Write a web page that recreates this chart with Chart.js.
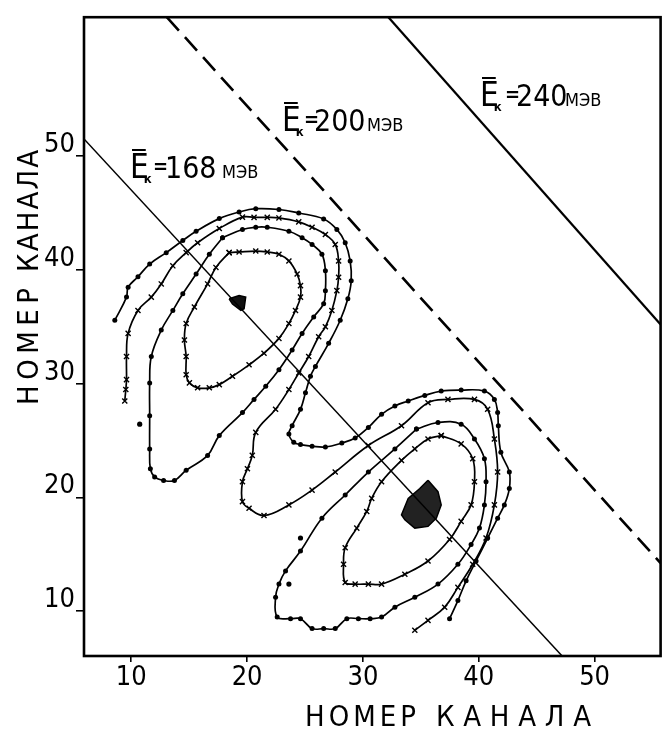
<!DOCTYPE html>
<html><head><meta charset="utf-8">
<script src="https://cdn.jsdelivr.net/npm/chart.js@4.4.0/dist/chart.umd.min.js"></script>
<style>html,body{margin:0;padding:0;background:#fff;}canvas{display:block;}</style>
</head><body>
<canvas id="c" width="666" height="729"></canvas>
<script>
// ---- data (channel numbers) ----
const xTicks = [10, 20, 30, 40, 50];
const yTicks = [10, 20, 30, 40, 50];
const axisTitle = 'НОМЕР  КАНАЛА';

// outer S-shaped contour (dots)
const curveA = [[8.58,35.57],[9.59,37.60],[9.73,38.47],[10.58,39.39],[11.59,40.50],[13.02,41.51],[14.45,42.58],[15.60,43.39],[17.60,44.50],[19.31,45.08],[20.75,45.37],[22.75,45.30],[24.46,44.99],[26.61,44.47],[27.75,43.55],[28.47,42.38],[28.90,40.78],[28.99,39.04],[28.70,37.45],[28.04,35.57],[27.04,33.54],[25.90,31.51],[25.47,30.64],[25.04,29.19],[24.61,27.74],[23.89,26.30],[23.61,25.57],[24.03,24.84],[24.61,24.64],[25.61,24.50],[26.76,24.43],[28.18,24.78],[29.33,25.22],[30.47,26.15],[31.61,27.30],[32.76,28.03],[33.91,28.47],[35.34,28.96],[36.76,29.34],[38.48,29.43],[40.49,29.34],[41.35,28.61],[41.63,27.45],[41.69,26.30],[41.91,23.97],[42.64,22.23],[42.64,20.78],[42.21,19.34],[41.63,18.17],[40.77,16.43],[39.77,14.41],[38.91,12.67],[38.20,10.93],[37.48,9.34]];
// second S-shaped contour (crosses)
const curveC = [[9.44,28.47],[9.53,29.48],[9.59,30.35],[9.59,32.38],[9.73,34.41],[10.58,36.43],[11.73,37.60],[12.59,38.76],[13.59,40.35],[14.74,41.51],[15.73,42.38],[17.60,43.63],[19.60,44.63],[20.60,44.61],[21.74,44.61],[22.75,44.56],[24.46,44.21],[25.61,43.74],[26.76,43.10],[27.61,42.23],[27.90,40.78],[27.90,39.34],[27.75,38.17],[27.32,36.43],[26.76,34.99],[26.18,34.12],[25.32,32.38],[24.46,30.93],[23.61,29.48],[22.46,27.74],[20.75,25.71],[20.45,23.69],[20.03,22.52],[19.60,21.37],[19.60,19.63],[20.17,19.04],[21.46,18.41],[23.61,19.34],[25.61,20.64],[27.61,22.23],[30.47,24.56],[33.33,26.30],[35.62,28.32],[37.34,28.61],[39.63,28.61],[40.77,27.74],[41.35,25.13],[41.63,22.23],[41.35,19.34],[40.63,16.43],[39.48,14.12],[38.20,12.09],[37.06,10.35],[35.62,9.19],[34.48,8.32]];
// upper peak: inner contour (crosses) and middle contour (dots)
const upperInner = [[18.45,41.51],[19.31,41.57],[20.75,41.65],[21.74,41.57],[22.75,41.37],[23.61,40.78],[24.32,39.63],[24.61,38.61],[24.61,37.60],[24.18,36.43],[23.61,35.28],[22.75,33.97],[21.46,32.67],[20.17,31.65],[18.74,30.64],[17.60,29.91],[16.74,29.63],[15.73,29.63],[15.02,30.06],[14.74,30.78],[14.74,32.38],[14.59,33.83],[14.74,35.28],[15.45,36.73],[16.59,38.76],[17.31,40.21],[18.45,41.51]];
const upperMid = [[17.88,42.82],[19.60,43.54],[20.75,43.74],[21.74,43.74],[23.61,43.39],[24.75,42.82],[25.61,42.23],[26.46,41.37],[26.76,39.91],[26.76,38.17],[26.61,37.02],[25.75,35.86],[24.75,34.41],[23.89,32.96],[22.75,31.22],[21.61,29.77],[20.60,28.61],[19.60,27.45],[17.60,25.43],[16.59,23.69],[14.74,22.38],[13.73,21.49],[12.79,21.49],[12.02,21.80],[11.65,22.52],[11.59,24.26],[11.59,27.17],[11.59,30.06],[11.73,32.38],[12.59,34.70],[13.59,36.43],[14.45,37.89],[15.60,39.63],[16.74,41.37],[17.88,42.82]];
// lower peak: inner contour (crosses) and middle contour (dots)
const lowerInner = [[36.76,25.43],[38.48,24.70],[39.48,23.39],[39.63,21.37],[39.34,19.34],[38.48,17.89],[37.48,16.30],[35.62,14.41],[33.62,13.25],[31.61,12.38],[30.47,12.38],[29.33,12.38],[28.47,12.52],[28.33,14.12],[28.47,15.57],[29.47,17.30],[30.33,18.76],[30.76,19.91],[31.61,21.37],[33.33,23.25],[34.48,24.26],[35.62,25.13],[36.76,25.43]];
const lowerMid = [[34.62,26.00],[36.48,26.58],[38.48,26.43],[39.63,25.13],[40.49,23.39],[40.63,21.37],[40.49,19.34],[40.06,17.30],[39.34,15.86],[38.20,14.12],[36.48,12.38],[34.48,11.22],[32.76,10.35],[31.61,9.48],[30.62,9.34],[29.61,9.34],[28.61,9.34],[27.61,8.47],[26.61,8.47],[25.61,8.47],[24.61,9.34],[23.75,9.34],[22.60,9.48],[22.46,11.22],[22.75,12.38],[23.32,13.54],[24.61,15.28],[26.46,18.17],[28.47,20.21],[30.47,22.23],[32.76,24.26],[34.62,26.00]];
// isolated points
const strayDots = [[10.73,26.43],[23.61,12.38],[24.61,16.43]];
// peak regions
const upperPeak = [[18.45,37.45],[19.31,37.74],[19.88,37.60],[19.74,36.58],[19.46,36.43],[18.74,36.99],[18.45,37.45]];
const lowerPeak = [[35.62,21.51],[36.48,20.50],[36.76,19.34],[36.34,18.17],[35.62,17.45],[34.48,17.30],[33.62,18.03],[33.33,18.47],[33.91,19.91],[34.91,20.78],[35.62,21.51]];
// constant kinetic energy lines
const energies = ['168', '200', '240'];
const lineE168 = [[5.92,51.5],[47.2,6.06]];
const lineE200 = [[13.07,62.2],[55.7,14.23]];
const lineE240 = [[32.2,62.2],[55.7,35.2]];

// ---- helpers ----
function pts(a){ return a.map(p => ({x:p[0], y:p[1]})); }
const condFam = '"DejaVu Sans Condensed", "DejaVu Sans", sans-serif';
const tickFam = condFam;
const tickSize = 27;

const contourLine = { showLine:true, borderColor:'#000', borderWidth:1.7, tension:0.4, pointBackgroundColor:'#000', pointBorderColor:'#000' };
function dotSet(d){ return Object.assign({data:pts(d), pointStyle:'circle', pointRadius:2.5, pointBorderWidth:0}, contourLine); }
function crossSet(d){ return Object.assign({data:pts(d), pointStyle:'crossRot', pointRadius:3.6, pointBorderWidth:1.4}, contourLine); }

const datasets = [
  {data:pts(lineE168), showLine:true, borderColor:'#000', borderWidth:1.5, pointRadius:0, tension:0},
  {data:pts(lineE200), showLine:true, borderColor:'#000', borderWidth:2.6, borderDash:[18,9], pointRadius:0, tension:0},
  {data:pts(lineE240), showLine:true, borderColor:'#000', borderWidth:2.2, pointRadius:0, tension:0},
  dotSet(curveA), crossSet(curveC), crossSet(upperInner), dotSet(upperMid), crossSet(lowerInner), dotSet(lowerMid),
  {data:pts(strayDots), showLine:false, pointStyle:'circle', pointRadius:2.6, pointBackgroundColor:'#000', pointBorderWidth:0},
  {data:pts(upperPeak), showLine:true, fill:'shape', backgroundColor:'#111', borderColor:'#000', borderWidth:1.5, pointRadius:0, tension:0},
  {data:pts(lowerPeak), showLine:true, fill:'shape', backgroundColor:'#222', borderColor:'#000', borderWidth:1.5, pointRadius:0, tension:0}
];

function spaced(ctx, text, x0, x1, y){
  const chars = [...text]; let w = 0;
  chars.forEach(ch => w += ctx.measureText(ch).width);
  const gap = chars.length > 1 ? Math.max(0, (x1 - x0 - w) / (chars.length - 1)) : 0;
  let x = x0;
  chars.forEach(ch => { ctx.fillText(ch, x, y); x += ctx.measureText(ch).width + gap; });
}
function drawEk(ctx, num, ex, base, eqX, numX, mevX){
  ctx.fillStyle = '#000'; ctx.strokeStyle = '#000';
  ctx.font = '33px ' + condFam; ctx.textBaseline = 'alphabetic'; ctx.textAlign = 'left';
  ctx.fillText('E', ex, base);
  const wE = ctx.measureText('E').width;
  ctx.lineWidth = 2; ctx.beginPath(); ctx.moveTo(ex + 2, base - 28); ctx.lineTo(ex + wE - 3, base - 28); ctx.stroke();
  ctx.font = 'bold 13px ' + condFam; ctx.fillText('к', ex + wE - 5, base + 5);
  ctx.font = 'bold 20px ' + condFam; ctx.fillText('=', eqX, base - 5);
  ctx.font = '30px ' + condFam; ctx.fillText(num, numX, base);
  ctx.font = '18px ' + condFam; ctx.fillText('МЭВ', mevX, base);
}

const decor = {
  id:'decor',
  afterDraw(chart){
    const ctx = chart.ctx, a = chart.chartArea;
    ctx.save();
    ctx.strokeStyle = '#000'; ctx.lineWidth = 2.6;
    ctx.strokeRect(a.left, a.top, a.right - a.left, a.bottom - a.top);
    drawEk(ctx, energies[0], 130, 178, 153, 165, 222);
    drawEk(ctx, energies[1], 282, 131, 304, 314, 367);
    drawEk(ctx, energies[2], 480, 106, 505, 516, 565);
    ctx.fillStyle = '#000';
    ctx.font = '29px ' + condFam; ctx.textBaseline = 'alphabetic'; ctx.textAlign = 'left';
    const words = axisTitle.split(/\s+/);
    spaced(ctx, words[0], 305, 416, 726);
    spaced(ctx, words[1], 436, 591, 726);
    ctx.save(); ctx.translate(38, 0); ctx.rotate(-Math.PI/2);
    spaced(ctx, words[0], -405, -288, 0);
    spaced(ctx, words[1], -272, -150, 0);
    ctx.restore();
    ctx.restore();
  }
};

new Chart(document.getElementById('c'), {
  type:'scatter',
  data:{datasets},
  plugins:[decor],
  options:{
    responsive:false, animation:false, devicePixelRatio:1,
    layout:{padding:{top:11, right:2, left:0, bottom:0}},
    plugins:{legend:{display:false}, tooltip:{enabled:false}},
    scales:{
      x:{type:'linear', min:5.92, max:55.7,
        afterBuildTicks(ax){ ax.ticks = xTicks.map(v => ({value:v})); },
        afterFit(ax){ ax.height = 73; },
        border:{display:false},
        grid:{drawOnChartArea:false, drawTicks:true, tickLength:6, color:'#000', lineWidth:1.6},
        ticks:{color:'#000', padding:0, maxRotation:0, font:{family:tickFam, size:tickSize}, callback:v => String(v)}
      },
      y:{type:'linear', min:6.06, max:62.2,
        afterBuildTicks(ax){ ax.ticks = yTicks.map(v => ({value:v})); },
        afterFit(ax){ ax.width = 84; },
        border:{display:false},
        grid:{drawOnChartArea:false, drawTicks:true, tickLength:8, color:'#000', lineWidth:1.6},
        ticks:{color:'#000', padding:1, labelOffset:-11, font:{family:tickFam, size:tickSize}, callback:v => String(v)}
      }
    }
  }
});
</script>
</body></html>
